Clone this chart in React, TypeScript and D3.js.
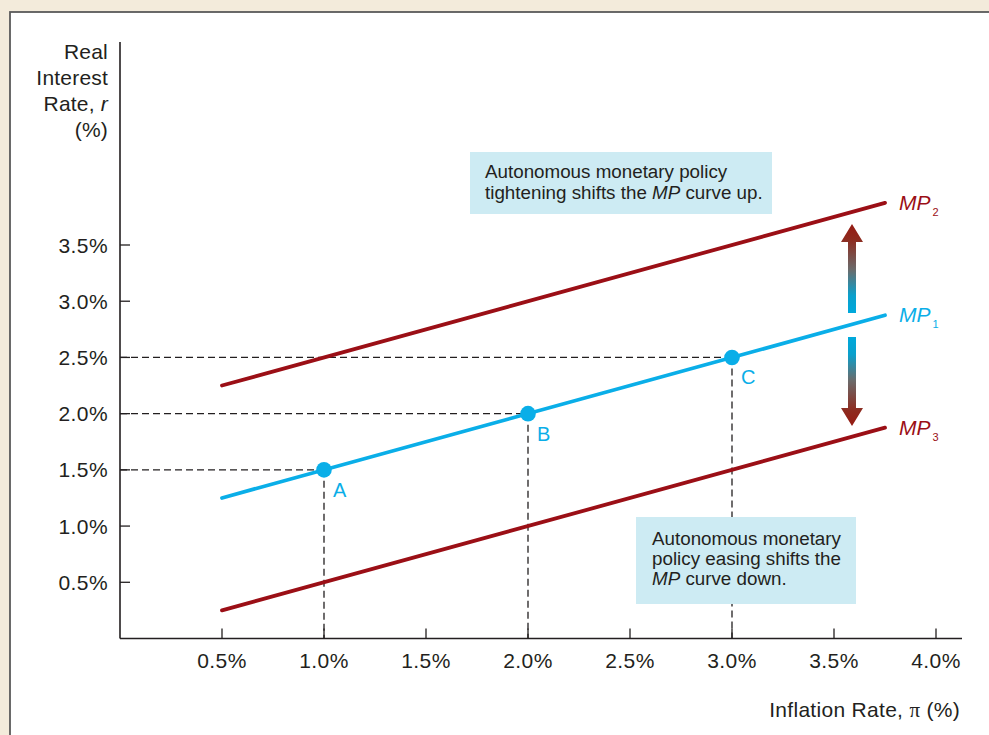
import React from "react";
import * as d3 from "d3";

const xTicks = [0.5, 1.0, 1.5, 2.0, 2.5, 3.0, 3.5, 4.0];
const yTicks = [0.5, 1.0, 1.5, 2.0, 2.5, 3.0, 3.5];
const curvePi = [0.5, 3.75];
const mp1 = [1.25, 2.875];
const mp2 = [2.25, 3.875];
const mp3 = [0.25, 1.875];
const pointNames = ["A", "B", "C"];
const pointPi = [1.0, 2.0, 3.0];
const pointR = [1.5, 2.0, 2.5];
const yTitle = ["Real", "Interest", "Rate, ", "(%)"];

const W = 989;
const H = 735;
const RED = "#9b0f16";
const BLUE = "#0aaee8";
const INK = "#231f20";
const FONT = "'Liberation Sans', Arial, Helvetica, sans-serif";
const FS = 21;
const LS = 0.4;

export default function App() {
  const x = d3.scaleLinear().domain([0, 4]).range([120, 936]);
  const y = d3.scaleLinear().domain([0, 3.5]).range([638.5, 245]);
  const line = d3
    .line<[number, number]>()
    .x((d) => x(d[0]))
    .y((d) => y(d[1]));
  const mk = (vals: number[]) => curvePi.map((p, i) => [p, vals[i]] as [number, number]);
  const curves = [
    { name: "2", vals: mp2, color: RED },
    { name: "1", vals: mp1, color: BLUE },
    { name: "3", vals: mp3, color: RED },
  ];
  const x0 = x(0);
  const y0 = y(0);
  const ax = 852;
  return (
    <div style={{ position: "absolute", left: 0, top: 0 }}>
      <svg width={W} height={H} style={{ display: "block", fontFamily: FONT }}>
        <defs>
          <linearGradient id="gUp" gradientUnits="userSpaceOnUse" x1="0" y1="313" x2="0" y2="226">
            <stop offset="0" stopColor="#00a9dc" />
            <stop offset="0.2" stopColor="#0aa0cc" />
            <stop offset="0.5" stopColor="#6b6b6b" />
            <stop offset="0.85" stopColor="#8e2a1e" />
            <stop offset="1" stopColor="#951c14" />
          </linearGradient>
          <linearGradient id="gDown" gradientUnits="userSpaceOnUse" x1="0" y1="337" x2="0" y2="424">
            <stop offset="0" stopColor="#00a9dc" />
            <stop offset="0.2" stopColor="#0aa0cc" />
            <stop offset="0.5" stopColor="#6b6b6b" />
            <stop offset="0.85" stopColor="#8e2a1e" />
            <stop offset="1" stopColor="#951c14" />
          </linearGradient>
        </defs>
        <rect x={0} y={0} width={W} height={H} fill="#f3ebdb" />
        <rect x={10} y={12} width={W + 20} height={H + 20} fill="#ffffff" stroke="#5a5a5a" strokeWidth={1.8} />

        {/* dashed guides */}
        {pointPi.map((p, i) => (
          <g key={"d" + i} stroke={INK} strokeWidth={1.3} strokeDasharray="7,4" fill="none">
            <line x1={x0} x2={x(p)} y1={y(pointR[i])} y2={y(pointR[i])} />
            <line x1={x(p)} x2={x(p)} y1={y(pointR[i])} y2={y0} />
          </g>
        ))}

        {/* axes */}
        <line x1={x0} x2={x0} y1={42} y2={y0} stroke={INK} strokeWidth={1.6} />
        <line x1={x0} x2={962} y1={y0} y2={y0} stroke={INK} strokeWidth={1.6} />
        {yTicks.map((t) => (
          <g key={"y" + t}>
            <line x1={x0} x2={x0 + 10} y1={y(t)} y2={y(t)} stroke={INK} strokeWidth={1.3} />
            <text x={108} y={y(t)} dy="0.36em" textAnchor="end" fontSize={FS} letterSpacing={LS} fill={INK}>
              {t.toFixed(1) + "%"}
            </text>
          </g>
        ))}
        {xTicks.map((t) => (
          <g key={"x" + t}>
            <line x1={x(t)} x2={x(t)} y1={y0} y2={y0 - 10} stroke={INK} strokeWidth={1.3} />
            <text x={x(t)} y={668} textAnchor="middle" fontSize={FS} letterSpacing={LS} fill={INK}>
              {t.toFixed(1) + "%"}
            </text>
          </g>
        ))}
        {yTitle.map((s, i) => (
          <text key={"t" + i} x={108} y={59 + i * 26} textAnchor="end" fontSize={FS} letterSpacing={0.2} fill={INK}>
            {s}
            {i === 2 ? <tspan fontStyle="italic">r</tspan> : null}
          </text>
        ))}
        <text x={960} y={717} textAnchor="end" fontSize={FS} letterSpacing={0.3} fill={INK}>
          Inflation Rate, <tspan fontFamily="'Liberation Serif', 'DejaVu Serif', serif">π</tspan> (%)
        </text>

        {/* curves */}
        {curves.map((c) => {
          const pts = mk(c.vals);
          const end = pts[1];
          return (
            <g key={c.name}>
              <path d={line(pts) || ""} stroke={c.color} strokeWidth={3.8} fill="none" strokeLinecap="round" />
              <text x={x(end[0]) + 14} y={y(end[1]) + 7} fontSize={21} fill={c.color} fontStyle="italic">
                MP
                <tspan fontSize={11} fontStyle="normal" dx={2} dy={6}>
                  {c.name}
                </tspan>
              </text>
            </g>
          );
        })}

        {/* points */}
        {pointPi.map((p, i) => (
          <g key={"p" + i}>
            <circle cx={x(p)} cy={y(pointR[i])} r={7.8} fill={BLUE} />
            <text x={x(p) + 9} y={y(pointR[i]) + 27} fontSize={20} fill={BLUE}>
              {pointNames[i]}
            </text>
          </g>
        ))}

        {/* arrows */}
        <path
          d={`M${ax - 4},313 L${ax - 4},242 L${ax - 11},242 L${ax},224 L${ax + 11},242 L${ax + 4},242 L${ax + 4},313 Z`}
          fill="url(#gUp)"
        />
        <path
          d={`M${ax - 4},337 L${ax - 4},408 L${ax - 11},408 L${ax},426 L${ax + 11},408 L${ax + 4},408 L${ax + 4},337 Z`}
          fill="url(#gDown)"
        />

        {/* text boxes */}
        <rect x={470} y={152} width={302} height={62} fill="#cdebf3" />
        <text x={485} y={178} fontSize={18.8} fill={INK}>
          Autonomous monetary policy
        </text>
        <text x={485} y={199} fontSize={18.8} fill={INK}>
          tightening shifts the <tspan fontStyle="italic">MP</tspan> curve up.
        </text>

        <rect x={636} y={517} width={220} height={87} fill="#cdebf3" />
        <text x={652} y={545} fontSize={18.8} fill={INK}>
          Autonomous monetary
        </text>
        <text x={652} y={565} fontSize={18.8} fill={INK}>
          policy easing shifts the
        </text>
        <text x={652} y={585} fontSize={18.8} fill={INK}>
          <tspan fontStyle="italic">MP</tspan> curve down.
        </text>
      </svg>
    </div>
  );
}
